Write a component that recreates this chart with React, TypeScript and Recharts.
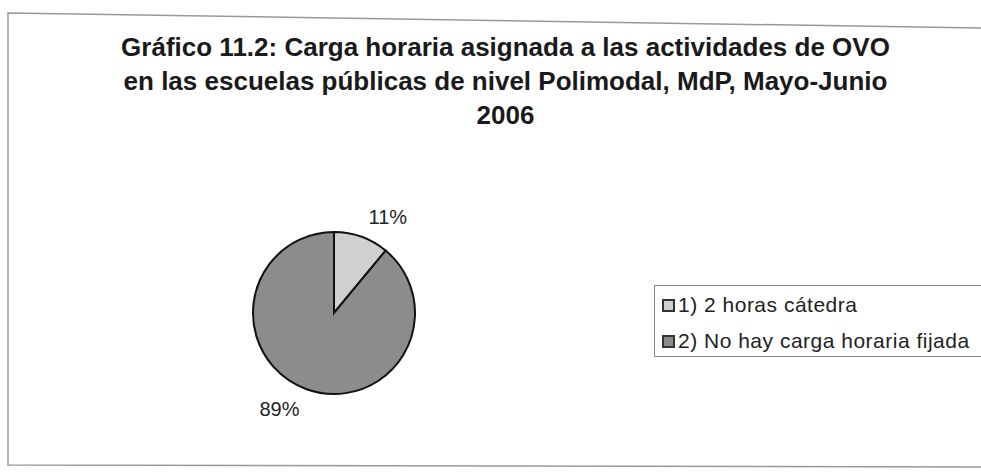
import React from "react";
import { PieChart, Pie, Cell, Legend } from "recharts";

const categories = ["1) 2 horas cátedra", "2) No hay carga horaria fijada"];
const values = [11, 89];
const colors = ["#d0d0d0", "#8c8c8c"];
const titleLines = [
  "Gráfico 11.2: Carga horaria asignada a las actividades de OVO",
  "en las escuelas públicas de nivel Polimodal, MdP, Mayo-Junio",
  "2006",
];

const data = categories.map((name, i) => ({ name, value: values[i] }));
const FONT = '"Liberation Sans", Arial, sans-serif';
const RAD = Math.PI / 180;

const renderLabel = (props: any) => {
  const { cx, cy, midAngle, percent } = props;
  const r = 102;
  const x = cx + r * Math.cos(-midAngle * RAD);
  const y = cy + r * Math.sin(-midAngle * RAD);
  return (
    <text
      x={x}
      y={y}
      textAnchor={x > cx ? "start" : "end"}
      dominantBaseline="central"
      fontFamily={FONT}
      fontSize={20}
      fill="#222"
    >
      {`${Math.round(percent * 100)}%`}
    </text>
  );
};

const LegendContent = () => (
  <div
    style={{
      border: "1px solid #888",
      borderRight: "none",
      padding: "1px 0 0 7px",
      fontFamily: FONT,
      fontSize: 21,
      letterSpacing: 0.5,
      color: "#222",
      background: "#fff",
      width: 327,
      height: 72,
      boxSizing: "border-box",
    }}
  >
    {data.map((d, i) => (
      <div key={d.name} style={{ display: "flex", alignItems: "center", height: 36 }}>
        <span
          style={{
            width: 9,
            height: 9,
            border: "2px solid #333",
            background: colors[i],
            marginRight: 3,
            display: "inline-block",
            flexShrink: 0,
          }}
        />
        <span style={{ whiteSpace: "nowrap" }}>{d.name}</span>
      </div>
    ))}
  </div>
);

export default function App() {
  return (
    <div
      style={{
        position: "absolute",
        left: 0,
        top: 0,
        width: 981,
        height: 474,
        background: "#fff",
        overflow: "hidden",
      }}
    >
      <svg
        width={981}
        height={474}
        style={{ position: "absolute", left: 0, top: 0 }}
      >
        <polyline
          points="981,28 8,13 8,465 981,467"
          fill="none"
          stroke="#999"
          strokeWidth={1.5}
        />
      </svg>
      <div
        style={{
          position: "absolute",
          left: 0,
          top: 30,
          width: 981,
          textAlign: "center",
          fontFamily: FONT,
          fontWeight: "bold",
          fontSize: 26,
          lineHeight: "34px",
          color: "#1a1a1a",
          paddingLeft: 30,
          boxSizing: "border-box",
        }}
      >
        {titleLines.map((t) => (
          <div key={t}>{t}</div>
        ))}
      </div>
      <div style={{ position: "absolute", left: 0, top: 0 }}>
        <PieChart width={981} height={474} margin={{ top: 0, right: 0, bottom: 0, left: 0 }}>
          <Pie
            data={data}
            dataKey="value"
            nameKey="name"
            cx={334}
            cy={313}
            outerRadius={81}
            startAngle={90}
            endAngle={-270}
            stroke="#111"
            strokeWidth={2}
            label={renderLabel}
            labelLine={false}
            isAnimationActive={false}
          >
            {data.map((d, i) => (
              <Cell key={d.name} fill={colors[i]} />
            ))}
          </Pie>
          <Legend
            content={<LegendContent />}
            wrapperStyle={{ position: "absolute", left: 654, top: 285, width: 327 }}
          />
        </PieChart>
      </div>
    </div>
  );
}
